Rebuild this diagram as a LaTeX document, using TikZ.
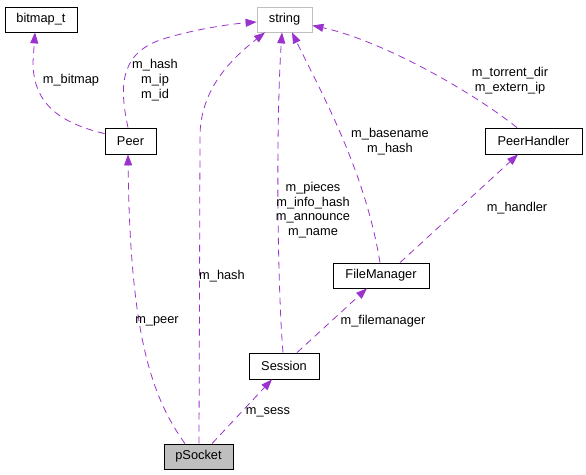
\documentclass[tikz,border=0pt]{standalone}
\usepackage{fontspec}
\setmainfont{Liberation Sans}
\usetikzlibrary{arrows.meta}
\definecolor{edgecol}{HTML}{9A32CD}
\definecolor{boxgray}{HTML}{BFBFBF}
\begin{document}
\begin{tikzpicture}[x=1pt,y=-1pt,
  every node/.style={font=\fontsize{12.8}{14.7}\selectfont},
  cls/.style={draw=black,line width=0.8pt,inner sep=0pt,minimum height=25pt,fill=white},
  ghost/.style={draw=boxgray,line width=0.8pt,inner sep=0pt,minimum height=25pt,fill=white},
  focus/.style={draw=black,line width=0.8pt,inner sep=0pt,minimum height=25pt,fill=boxgray},
  uses/.style={draw=edgecol,line width=0.8pt,dash pattern=on 7pt off 5pt,
     -{Triangle[length=11pt,width=8pt,fill=edgecol]}},
  lbl/.style={align=center,inner sep=0pt}]
\useasboundingbox (0,0) rectangle (586,474);
% nodes
\node[cls,minimum width=72pt] (bitmap) at (41,19.5) {bitmap\_t};
\node[ghost,minimum width=55pt] (string) at (284.5,19.5) {string};
\node[cls,minimum width=51pt,minimum height=26pt] (peer) at (130.5,141) {Peer};
\node[cls,minimum width=97pt,minimum height=26pt] (handler) at (533.5,141) {PeerHandler};
\node[cls,minimum width=96pt] (fm) at (381,275.5) {FileManager};
\node[cls,minimum width=70pt,minimum height=26pt] (session) at (284,366) {Session};
\node[focus,minimum width=69pt] (psock) at (198.5,456.5) {pSocket};
% edges
\draw[uses] ([yshift=-6pt]peer.north west) .. controls (55,122) and (33,100) .. (33,62) -- ([xshift=-6pt]bitmap.south);
\draw[uses] ([xshift=-2.5pt]peer.north) .. controls (120,90) and (118,55) .. (160,40) .. controls (190,30) and (230,24) .. ([yshift=-2.5pt]string.west);
\draw[uses] ([xshift=-13.5pt]psock.north) .. controls (150,395) and (130,330) .. ([xshift=-2.5pt]peer.south);
\draw[uses] ([xshift=0.5pt]psock.north) -- (200,137) .. controls (200,90) and (230,60) .. ([xshift=-19.5pt]string.south);
\draw[uses] ([xshift=13.5pt]psock.north) -- ([xshift=-12pt]session.south);
\draw[uses] ([xshift=-1pt]session.north) .. controls (277,280) and (276,120) .. ([xshift=-2.5pt]string.south);
\draw[uses] ([xshift=13pt]session.north) -- ([xshift=-14pt]fm.south);
\draw[uses] ([xshift=-1pt]fm.north) .. controls (365,170) and (320,90) .. ([xshift=7.5pt]string.south);
\draw[uses] ([xshift=19pt]fm.north) -- ([xshift=-15.5pt]handler.south);
\draw[uses] ([xshift=-16.5pt]handler.north) .. controls (470,90) and (380,40) .. ([yshift=-6pt]string.east);
% labels
\node[lbl] (l1) at (71,80) {m\_bitmap};
\node[lbl] (l2) at (155,80) {m\_hash\\m\_ip\\m\_id};
\node[lbl] (l3) at (510,80.5) {m\_torrent\_dir\\m\_extern\_ip};
\node[lbl] (l4) at (390,141.5) {m\_basename\\m\_hash};
\node[lbl] (l5) at (313,210) {m\_pieces\\m\_info\_hash\\m\_announce\\m\_name};
\node[lbl] (l6) at (517,208) {m\_handler};
\node[lbl] (l7) at (222,276) {m\_hash};
\node[lbl] (l8) at (157,321) {m\_peer};
\node[lbl] (l9) at (383,321) {m\_filemanager};
\node[lbl] (l10) at (268,412) {m\_sess};
\end{tikzpicture}
\end{document}
